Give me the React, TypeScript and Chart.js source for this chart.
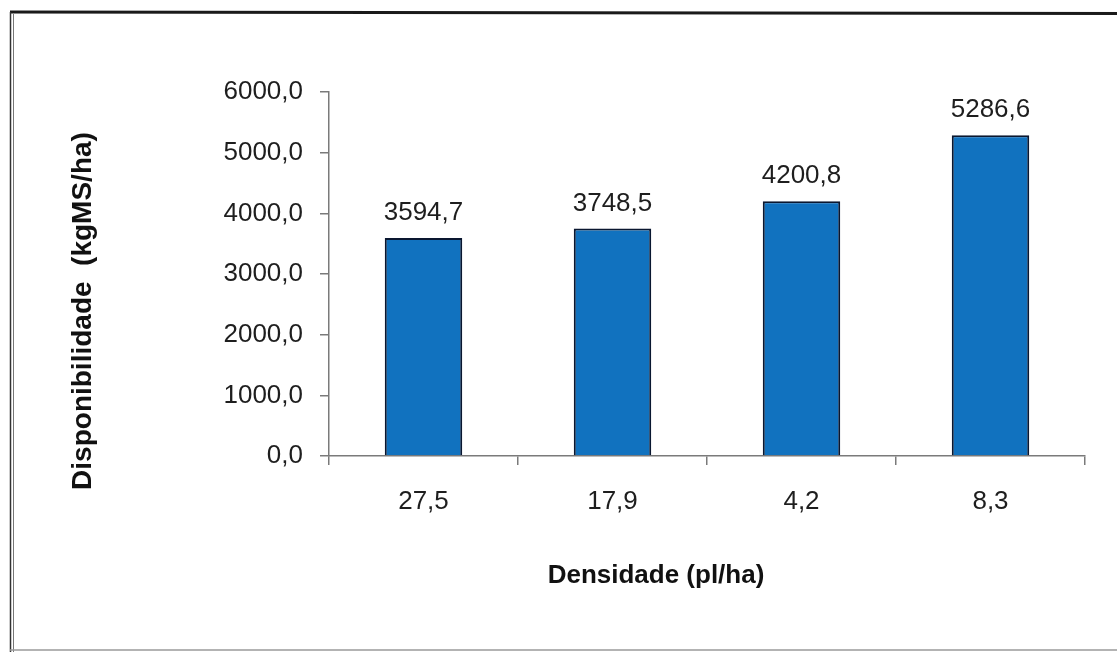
import React, { useEffect, useRef } from "react";
import { Chart, registerables } from "chart.js";

Chart.register(...registerables);

const categories = ["27,5", "17,9", "4,2", "8,3"];
const values = [3594.7, 3748.5, 4200.8, 5286.6];
const yTicks = [0, 1000, 2000, 3000, 4000, 5000, 6000];
const xTitle = "Densidade (pl/ha)";
const yTitle = "Disponibilidade  (kgMS/ha)";

const FONT = "'Liberation Sans', Arial, sans-serif";
const fmt = (v: number) => v.toFixed(1).replace(".", ",");

const framePlugin = {
  id: "frame",
  beforeDraw(chart: any) {
    const ctx = chart.ctx;
    ctx.save();
    ctx.fillStyle = "#ffffff";
    ctx.fillRect(0, 0, chart.width, chart.height);
    ctx.strokeStyle = "#1a1a1a";
    ctx.lineWidth = 3;
    ctx.beginPath();
    ctx.moveTo(10, 12);
    ctx.lineTo(chart.width, 13.5);
    ctx.stroke();
    ctx.lineWidth = 1.5;
    ctx.strokeStyle = "#333333";
    ctx.beginPath();
    ctx.moveTo(10.5, 12);
    ctx.lineTo(10.5, 652);
    ctx.stroke();
    ctx.strokeStyle = "#777777";
    ctx.lineWidth = 1;
    ctx.beginPath();
    ctx.moveTo(13.5, 14);
    ctx.lineTo(13.5, 652);
    ctx.stroke();
    ctx.strokeStyle = "#9a9a9a";
    ctx.lineWidth = 1.5;
    ctx.beginPath();
    ctx.moveTo(10, 650);
    ctx.lineTo(chart.width, 650);
    ctx.stroke();
    ctx.restore();
  },
};

const labelsPlugin = {
  id: "barLabels",
  afterDatasetsDraw(chart: any) {
    const ctx = chart.ctx;
    const meta = chart.getDatasetMeta(0);
    const data = chart.data.datasets[0].data as number[];
    ctx.save();
    ctx.font = `26px ${FONT}`;
    ctx.fillStyle = "#1e1e1e";
    ctx.textAlign = "center";
    ctx.textBaseline = "alphabetic";
    meta.data.forEach((el: any, i: number) => {
      ctx.fillText(fmt(data[i]), el.x, el.y - 18);
    });
    ctx.restore();
  },
};

const titlesPlugin = {
  id: "axisTitles",
  afterDraw(chart: any) {
    const ctx = chart.ctx;
    ctx.save();
    ctx.fillStyle = "#111111";
    ctx.font = `bold 26px ${FONT}`;
    ctx.textAlign = "center";
    ctx.textBaseline = "alphabetic";
    ctx.fillText(xTitle, 656, 583);
    ctx.translate(91, 311);
    ctx.rotate(-Math.PI / 2);
    ctx.font = `bold 28px ${FONT}`;
    ctx.fillText(yTitle, 0, 0);
    ctx.restore();
  },
};

export default function App() {
  const ref = useRef<HTMLCanvasElement | null>(null);

  useEffect(() => {
    if (!ref.current) return;
    const chart = new Chart(ref.current, {
      type: "bar",
      data: {
        labels: categories,
        datasets: [
          {
            data: values,
            backgroundColor: "#1172bf",
            borderColor: "#0a1730",
            borderWidth: 2,
            categoryPercentage: 1,
            barPercentage: 0.41,
          },
        ],
      },
      options: {
        responsive: false,
        animation: false,
        devicePixelRatio: 1,
        layout: { padding: { top: 92, right: 32, bottom: 0, left: 0 } },
        plugins: {
          legend: { display: false },
          tooltip: { enabled: false },
          title: { display: false },
        },
        scales: {
          x: {
            afterFit(scale: any) {
              scale.height = 198;
            },
            grid: {
              offset: true,
              drawOnChartArea: false,
              drawTicks: true,
              tickLength: 9,
              color: "#7a7a7a",
              lineWidth: 1.5,
            },
            border: { display: true, color: "#7a7a7a", width: 1.5 },
            ticks: {
              color: "#1e1e1e",
              font: { family: FONT, size: 26 },
              padding: 21,
              maxRotation: 0,
            },
          },
          y: {
            min: 0,
            max: 6000,
            afterFit(scale: any) {
              scale.width = 329;
            },
            afterBuildTicks(scale: any) {
              scale.ticks = yTicks.map((v) => ({ value: v }));
            },
            grid: {
              drawOnChartArea: false,
              drawTicks: true,
              tickLength: 9,
              color: "#7a7a7a",
              lineWidth: 1.5,
            },
            border: { display: true, color: "#7a7a7a", width: 1.5 },
            ticks: {
              color: "#1e1e1e",
              font: { family: FONT, size: 26 },
              padding: 17,
              callback: (v: any) => fmt(Number(v)),
            },
          },
        },
      },
      plugins: [framePlugin, labelsPlugin, titlesPlugin],
    });
    return () => chart.destroy();
  }, []);

  return (
    <div style={{ position: "fixed", left: 0, top: 0, width: 1117, height: 654, background: "#fff" }}>
      <canvas ref={ref} width={1117} height={654} style={{ display: "block", width: 1117, height: 654 }} />
    </div>
  );
}
